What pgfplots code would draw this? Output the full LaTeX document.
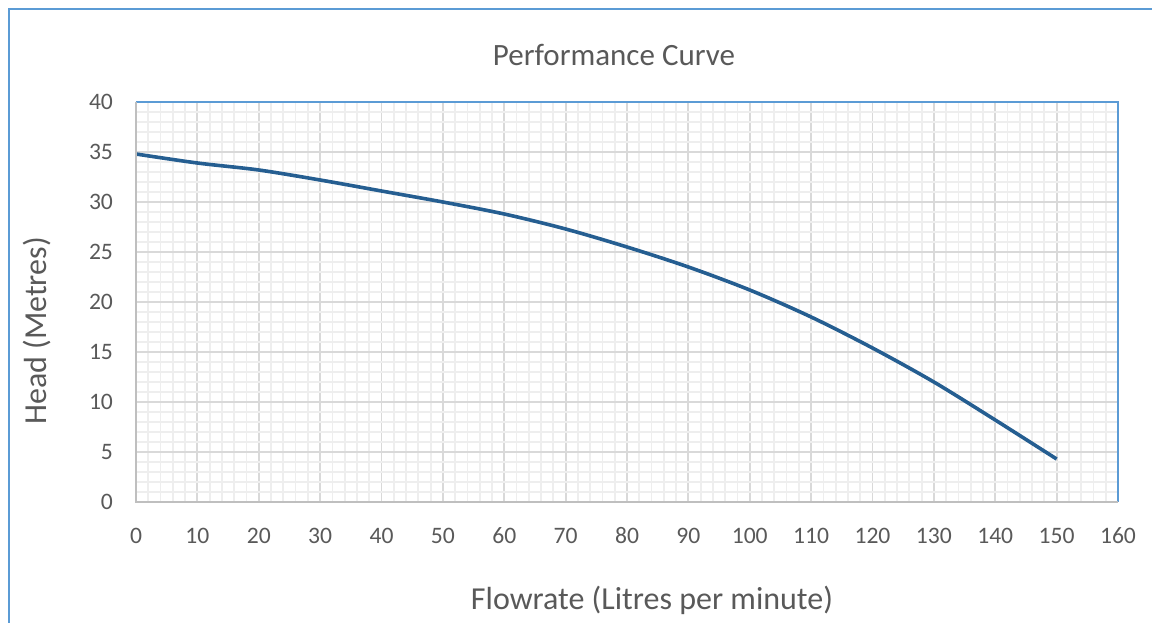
\documentclass[border=0pt]{standalone}
\usepackage{pgfplots}
\pgfplotsset{compat=1.18}
\usepackage{fontspec}
\setmainfont{Carlito}
\definecolor{txt}{HTML}{595959}
\definecolor{curve}{HTML}{255E91}
\definecolor{frame}{HTML}{5B9BD5}
\definecolor{gmaj}{HTML}{D9D9D9}
\definecolor{gmin}{HTML}{EEEEEE}
\definecolor{axl}{HTML}{BFBFBF}
\begin{document}
\begin{tikzpicture}
\useasboundingbox (-68pt,-60pt) rectangle (508pt,251pt);
\begin{axis}[
  at={(0,0)}, anchor=south west,
  scale only axis, width=491pt, height=200pt,
  xmin=0, xmax=160, ymin=0, ymax=40,
  xtick={0,10,...,160}, ytick={0,5,...,40},
  minor x tick num=4, minor y tick num=4,
  grid=both,
  major grid style={gmaj, line width=0.9pt},
  minor grid style={gmin, line width=0.9pt},
  axis line style={draw=none},
  tick style={draw=none},
  ticklabel style={font=\fontsize{11.8}{14}\selectfont, text=txt},
  /pgf/number format/assume math mode=true,
  xticklabel style={anchor=base, yshift=-20.5pt},
  yticklabel style={xshift=-8pt},
  clip=false,
]
\addplot[curve, line width=1.8pt, smooth, tension=0.5] coordinates {
(0,34.8) (10,33.9) (20,33.2) (30,32.2) (40,31.1) (50,30.0) (60,28.8) (70,27.3)
(80,25.5) (90,23.5) (100,21.2) (110,18.5) (120,15.4) (130,12.0) (140,8.2) (150,4.3)
};
\draw[frame, line width=0.6pt] (rel axis cs:0,1) -- (rel axis cs:1,1) -- (rel axis cs:1,0);
\draw[axl, line width=1.2pt] (rel axis cs:0,1) -- (rel axis cs:0,0) -- (rel axis cs:1,0);
\end{axis}
\node[text=txt, font=\fontsize{15.5}{18}\selectfont] at (239pt,223.5pt) {Performance Curve};
\node[text=txt, font=\fontsize{16}{19}\selectfont] at (258pt,-49pt) {Flowrate (Litres per minute)};
\node[text=txt, font=\fontsize{16}{19}\selectfont, rotate=90] at (-49.5pt,85.5pt) {Head (Metres)};
\draw[frame, line width=1pt] (-63.5pt,-70pt) -- (-63.5pt,246.5pt) -- (520pt,246.5pt);
\end{tikzpicture}
\end{document}
